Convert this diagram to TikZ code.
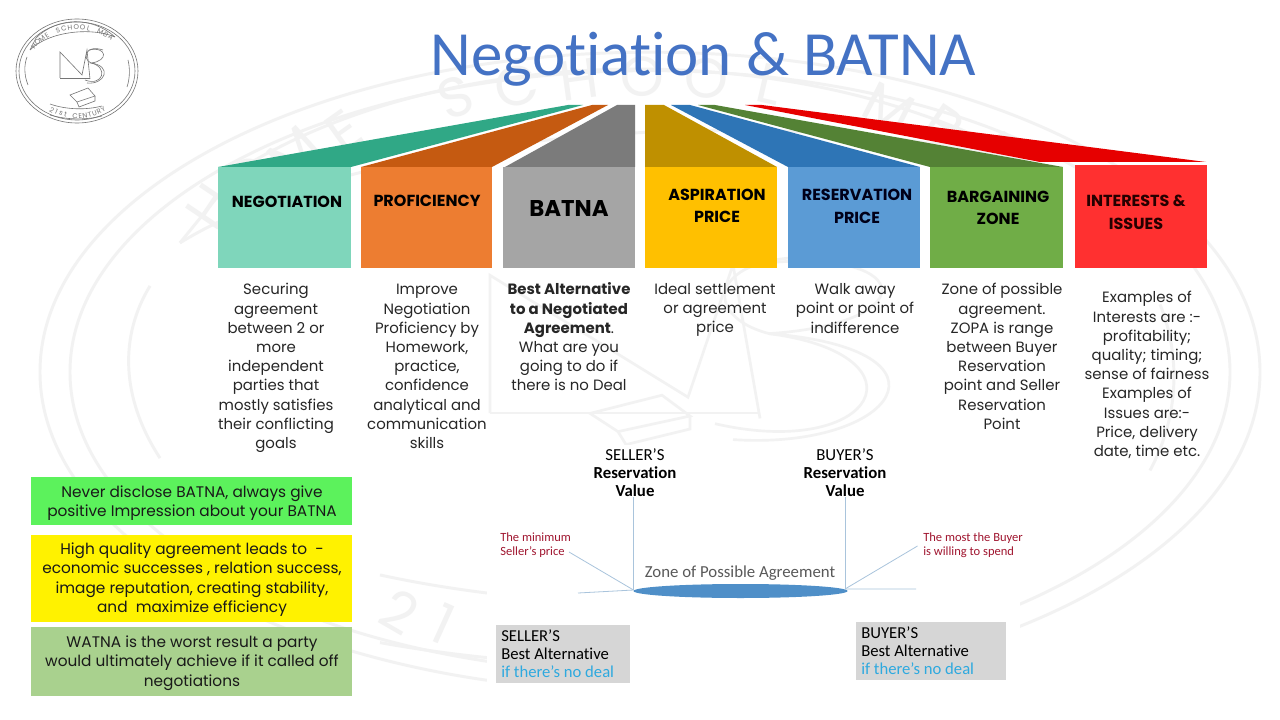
\documentclass[tikz,border=0pt]{standalone}
\usepackage{fontspec}
\setmainfont{Poppins}
\newfontfamily\carl[Ligatures=NoCommon]{Carlito}
\usetikzlibrary{calc,shapes.geometric}
\definecolor{wm}{HTML}{F2F2F2}
\definecolor{logoc}{HTML}{757575}
\definecolor{ttl}{HTML}{4472C4}
\definecolor{nog}{HTML}{5CF25C}
\definecolor{lin}{HTML}{A9C4DC}
\definecolor{redn}{HTML}{A0152F}
\newcommand{\fsz}[2]{\fontsize{#1pt}{#2pt}\selectfont}
\tikzset{
 bodytxt/.style={align=center,inner sep=0pt,text=black!85,font=\fsz{11.2}{14.4}},
 headtxt/.style={align=center,inner sep=0pt,font=\bfseries\fsz{12}{16.9}},
 notetxt/.style={align=center,inner sep=0pt,text=black!90,font=\fsz{11.5}{14.6}},
 dia/.style={align=center,inner sep=0pt,font=\carl\fsz{12.6}{13.5}},
 boxt/.style={align=left,inner sep=0pt,font=\carl\fsz{12.5}{13.5}},
 redt/.style={align=left,inner sep=0pt,text=redn,font=\carl\fsz{9.4}{10.3}},
 thin line/.style={draw=lin,line width=0.6pt},
}
% ring and lettering: #1 name, #2 cx, #3 cy, #4 sx, #5 sy, #6 font pt, #7 colour, #8 line width, #9 bottom letters shown
\newcommand{\logoring}[9]{%
\begin{scope}[shift={(#2,#3)},xscale=#4,yscale=#5,draw=#7,line width=#8,text=#7]
 \draw (0,0) ellipse [x radius=61,y radius=52];
 \draw (0,0) ellipse [x radius=58,y radius=49];
 \draw (-47,-21) .. controls (-28,-40) and (15,-44) .. (38,-34);
 \draw (-41,-33) .. controls (-20,-54) and (15,-55) .. (38,-34);
 \draw (-47,-21) -- (-41,-33);
 \draw (-27,33) .. controls (-10,39) and (10,39) .. (25,35);
 \draw (-27,44) .. controls (-10,49) and (10,49) .. (25,45);
 \draw (-50,-14) .. controls (-53,-6) and (-53,4) .. (-49,14);
 \draw (51,-11) .. controls (53,-3) and (53,7) .. (50,16);
 \foreach \c [count=\i] in {H,O,M,E,{},S,C,H,O,O,L,{},M,B,A}{
  \pgfmathsetmacro{\a}{146-(\i-1)*6.9}
  \pgfmathsetmacro{\r}{\a-90}
  \node[inner sep=0pt,rotate=\r,font=\fsz{#6}{#6}] (#1t\i) at ({\tpx*cos(\a)},{-\tpy*sin(\a)}) {\c};
 }
 \foreach \c [count=\i] in {2,1,s,t,{},C,E,N,T,U,R,Y}{
  \ifnum\i>#9\relax\else
  \pgfmathsetmacro{\a}{240+(\i-1)*5.6}
  \pgfmathsetmacro{\r}{\a+90}
  \node[inner sep=0pt,rotate=\r,font=\fsz{#6}{#6}] (#1b\i) at ({50*cos(\a)},{-45*sin(\a)}) {\c};
  \fi
 }
\end{scope}}
% monogram: cx, cy, sx, sy, colour, line width
\newcommand{\logomono}[6]{%
\begin{scope}[shift={(#1,#2)},xscale=#3,yscale=#4,draw=#5,line width=#6]
 \draw (-17,7) -- (-17,-19) -- (5,4) -- (10,-21) -- (13,8);
 \draw (-17,7) -- (13,7);
 \draw (26,-21) .. controls (8,-27) and (5,-12) .. (14,-8) .. controls (32,-4) and (26,16) .. (8,9);
 \draw (12,-21) .. controls (30,-25) and (32,-10) .. (14,-8) .. controls (36,-5) and (28,14) .. (10,12);
\end{scope}}
% book: cx, cy, sx, sy, colour, line width
\newcommand{\logobook}[6]{%
\begin{scope}[shift={(#1,#2)},xscale=#3,yscale=#4,draw=#5,line width=#6]
 \draw (-7,24) -- (11,17) -- (18,25) -- (0,31) -- cycle;
 \draw (0,31) -- (2,36) -- (18,30) -- (18,25);
\end{scope}}
\begin{document}
\begin{tikzpicture}[x=0.75pt,y=-0.75pt]
\useasboundingbox (0,0) rectangle (1280,720);
\fill[white] (0,0) rectangle (1280,720);
% watermark
\def\tpx{53}\def\tpy{48}
\logoring{w}{650}{372}{10}{6.15}{42}{wm}{2.2pt}{2}
\logomono{643}{376}{9}{5.3}{wm}{2pt}
\logobook{618}{351}{4}{2.6}{wm}{2pt}
\fill[white] (487,445) rectangle (1020,700);
% logo
\def\tpx{52}\def\tpy{44}
\logoring{l}{77}{71}{1}{1}{5.2}{logoc}{0.45pt}{12}
\logomono{77}{71}{1}{1}{logoc}{0.45pt}
\logobook{77}{71}{1}{1}{logoc}{0.45pt}
% title
\node[inner sep=0pt,text=ttl,font=\carl\fsz{47.2}{50}] (title) at (703.5,59) {Negotiation \& BATNA};
% tops
\definecolor{c1}{HTML}{7FD6BB}\definecolor{t1}{HTML}{30A886}
\definecolor{c2}{HTML}{ED7D31}\definecolor{t2}{HTML}{C55A11}
\definecolor{c3}{HTML}{A5A5A5}\definecolor{t3}{HTML}{7B7B7B}
\definecolor{c4}{HTML}{FFC000}\definecolor{t4}{HTML}{BF9000}
\definecolor{c5}{HTML}{5B9BD5}\definecolor{t5}{HTML}{2E75B6}
\definecolor{c6}{HTML}{70AD47}\definecolor{t6}{HTML}{548235}
\definecolor{c7}{HTML}{FF3030}\definecolor{t7}{HTML}{E60000}
\fill[t7] (745,105) -- (762,105) -- (1206,162) -- (1040,162) -- cycle;
\fill[t1] (218,167) -- (568,105) -- (583,105) -- (351,167) -- cycle;
\fill[t2] (361,167) -- (592,105) -- (608,105) -- (492,167) -- cycle;
\fill[t3] (505,167) -- (617,105) -- (635,105) -- (635,167) -- cycle;
\fill[t4] (645,167) -- (645,105) -- (664,105) -- (777,167) -- cycle;
\fill[t5] (788,167) -- (671,105) -- (690,105) -- (920,167) -- cycle;
\fill[t6] (930,167) -- (698,105) -- (715,105) -- (1063,167) -- cycle;
\fill[c1] (218,167) rectangle (351,268);
\fill[c2] (361,167) rectangle (492,268);
\fill[c3] (503,167) rectangle (635,268);
\fill[c4] (645,167) rectangle (777,268);
\fill[c5] (788,167) rectangle (920,268);
\fill[c6] (930,167) rectangle (1063,268);
\fill[c7] (1075,165) rectangle (1207,268);
% headings
\node[headtxt] (h1) at (287,202) {NEGOTIATION};
\node[headtxt] (h2) at (427,201) {PROFICIENCY};
\node[headtxt,font=\bfseries\fsz{17.1}{20}] (h3) at (569,208) {BATNA};
\node[headtxt] (h4) at (717,206) {ASPIRATION\\PRICE};
\node[headtxt,text=black!90!blue] (h5) at (857,206.5) {RESERVATION\\PRICE};
\node[headtxt] (h6) at (998,208) {BARGAINING\\ZONE};
\node[headtxt,text=black!85!red] (h7) at (1136,212.5) {INTERESTS \&\\ISSUES};
% bodies
\node[bodytxt] (b1) at (276,368) {Securing\\agreement\\between 2 or\\more\\independent\\parties that\\mostly satisfies\\their conflicting\\goals};
\node[bodytxt] (b2) at (427,366.5) {Improve\\Negotiation\\Proficiency by\\Homework,\\practice,\\confidence\\analytical and\\communication\\skills};
\node[bodytxt] (b3) at (569,337) {{\bfseries Best Alternative}\\{\bfseries to a Negotiated}\\{\bfseries Agreement}.\\What are you\\going to do if\\there is no Deal};
\node[bodytxt] (b4) at (715,310) {Ideal settlement\\or agreement\\price};
\node[bodytxt] (b5) at (855,308.5) {Walk away\\point or point of\\indifference};
\node[bodytxt] (b6) at (1002,356.5) {Zone of possible\\agreement.\\ZOPA is range\\between Buyer\\Reservation\\point and Seller\\Reservation\\Point};
\node[bodytxt] (b7) at (1147,375) {Examples of\\Interests are :-\\profitability;\\quality; timing;\\sense of fairness\\Examples of\\Issues are:-\\Price, delivery\\date, time etc.};
% left notes
\fill[nog] (31,477) rectangle (352,525);
\fill[yellow] (31,535) rectangle (352,622);
\definecolor{sage}{HTML}{A9D18E}\fill[sage] (31,627) rectangle (352,696);
\node[notetxt] (n1) at (192,503) {Never disclose BATNA, always give\\positive Impression about your BATNA};
\node[notetxt] (n2) at (192,579.5) {High quality agreement leads to~~-\\economic successes , relation success,\\image reputation, creating stability,\\and~~maximize efficiency};
\node[notetxt] (n3) at (192,663) {WATNA is the worst result a party\\would ultimately achieve if it called off\\negotiations};
% ZOPA diagram
\node[dia] (sr) at (635,473) {SELLER’S\\{\bfseries Reservation}\\{\bfseries Value}};
\node[dia] (br) at (845,473) {BUYER’S\\{\bfseries Reservation}\\{\bfseries Value}};
\node[redt,anchor=west] (rl) at (500,545) {The minimum\\Seller’s price};
\node[redt,anchor=west] (rr) at (923,545) {The most the Buyer\\is willing to spend};
\node[dia,text=black!65,font=\carl\fsz{12.6}{13}] (zone) at (740,573.5) {Zone of Possible Agreement};
\coordinate (sp) at (633.5,590);
\coordinate (bp) at (845,589);
\coordinate (lf) at (578,593);
\coordinate (rf) at (916,589);
\coordinate (dl) at (569,552);
\coordinate (dr) at (917.5,546);
\path[thin line] (lf) -- (sp) (bp) -- (rf);
\path[thin line] (sr.south -| sp) -- (sp);
\path[thin line] (br.south -| bp) -- (bp);
\path[thin line] (dl) -- (sp);
\path[thin line] (dr) -- (bp);
\definecolor{ell}{HTML}{4F8FC8}
\node[ellipse,inner sep=0pt,minimum width=160.5pt,minimum height=10.5pt,fill=ell] (zell) at (740.5,591) {};
\definecolor{gb}{HTML}{D6D6D6}\definecolor{sky}{HTML}{2EA9DF}
\fill[gb] (496,625) rectangle (630,683);
\fill[gb] (856,622) rectangle (1006,680);
\node[boxt,anchor=west] (sb) at (501,654) {SELLER’S\\Best Alternative\\\textcolor{sky}{if there’s no deal}};
\node[boxt,anchor=west] (bb) at (861,651) {BUYER’S\\Best Alternative\\\textcolor{sky}{if there’s no deal}};
\end{tikzpicture}
\end{document}
